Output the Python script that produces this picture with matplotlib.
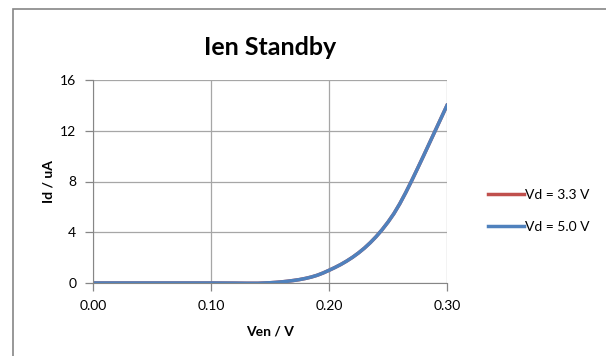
import numpy as np
import matplotlib.pyplot as plt
from matplotlib.patches import Rectangle

# enable voltage sweep and drain current (uA)
ven = [0.00, 0.05, 0.10, 0.12, 0.13, 0.14, 0.15, 0.155, 0.16, 0.165, 0.17,
       0.175, 0.18, 0.185, 0.19, 0.195, 0.20, 0.205, 0.21, 0.215, 0.22,
       0.225, 0.23, 0.235, 0.24, 0.245, 0.25, 0.255, 0.26, 0.265, 0.27,
       0.275, 0.28, 0.285, 0.29, 0.295, 0.30]
id_50 = [0.0, 0.0, 0.0, -0.01, -0.02, -0.02, 0.02, 0.05, 0.09, 0.14, 0.20,
         0.27, 0.36, 0.47, 0.61, 0.79, 1.0, 1.22, 1.46, 1.73, 2.03,
         2.37, 2.75, 3.18, 3.66, 4.20, 4.80, 5.47, 6.25, 7.12, 8.05,
         9.02, 10.0, 11.0, 12.0, 13.0, 14.0]
# the 3.3 V trace lies under the 5.0 V one
id_33 = list(id_50)
labels = ['Vd = 3.3 V', 'Vd = 5.0 V']
xticks = [0.0, 0.1, 0.2, 0.3]
yticks = [0, 4, 8, 12, 16]

plt.rcParams['font.family'] = ['Lato', 'DejaVu Sans']

W, H = 606, 356
fig = plt.figure(figsize=(W / 100, H / 100), dpi=100)

# chart border (only left/top fall inside the image)
fig.patches.append(Rectangle((13 / W, -0.2), 1.2, 1.2 - 9 / H, transform=fig.transFigure,
                             fill=False, edgecolor='#868686', linewidth=1.2))

ax = fig.add_axes([93 / W, 1 - 283 / H, (447 - 93) / W, (283 - 80) / H])

gray = '#868686'
ax.plot(ven, id_33, color='#c0504d', linewidth=2.5, label=labels[0],
        solid_joinstyle='round')
ax.plot(ven, id_50, color='#4f81bd', linewidth=2.5, label=labels[1],
        solid_joinstyle='round')

ax.set_xlim(0, 0.3)
ax.set_ylim(0, 16)
ax.set_xticks(xticks)
ax.set_yticks(yticks)
ax.set_xticklabels(['%.2f' % v for v in xticks])
ax.grid(True, color='#a6a6a6', linewidth=0.9)
ax.set_axisbelow(True)
for s in ['top', 'right']:
    ax.spines[s].set_visible(False)
for s in ['left', 'bottom']:
    ax.spines[s].set_color(gray)
ax.tick_params(colors=gray, labelcolor='black', labelsize=10, length=6, width=0.9)
ax.tick_params(axis='x', pad=6)
ax.tick_params(axis='y', pad=6)

ax.set_title('Ien Standby', fontsize=18, fontweight='bold', pad=18)
ax.set_xlabel('Ven / V', fontsize=10, fontweight='bold', labelpad=10)
ax.set_ylabel('Id / uA', fontsize=10, fontweight='bold', labelpad=4)

ax.legend(loc='center left', bbox_to_anchor=(1.08, 0.355), frameon=False,
          fontsize=10, handlelength=2.6, handletextpad=0.1, labelspacing=1.45)

fig.savefig('out.png', dpi=100)
